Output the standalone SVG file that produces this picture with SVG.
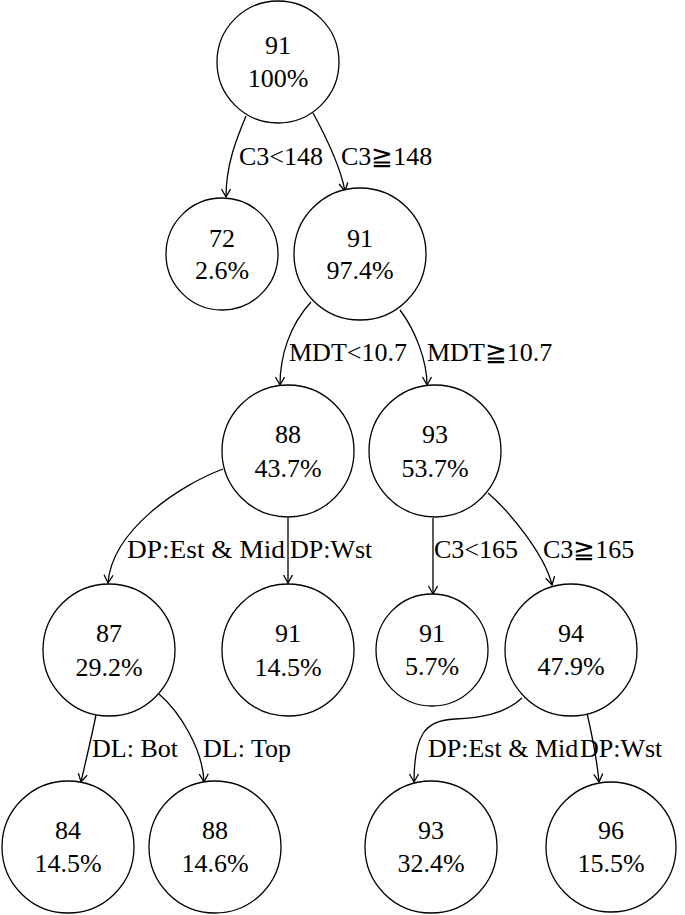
<svg xmlns="http://www.w3.org/2000/svg" width="685" height="915" viewBox="0 0 685 915" font-family="'Liberation Serif', 'Times New Roman', Times, 'DejaVu Serif', serif">
<style>
.node circle{fill:#fff;stroke:#000;stroke-width:1.3}
text{font-family:'Liberation Serif','Times New Roman',Times,'DejaVu Serif',serif;font-size:26px;fill:#000}
.node text{text-anchor:middle}
.edge{fill:none;stroke:#000;stroke-width:1.3;marker-end:url(#ah)}
</style>
<defs>
<marker id="ah" markerWidth="12" markerHeight="12" refX="9" refY="5" orient="auto" markerUnits="userSpaceOnUse">
<path d="M1,0.5 L9,5 L1,9.5" fill="none" stroke="#000" stroke-width="1.3"/>
</marker>
</defs>
<rect width="685" height="915" fill="#fff"/>
<g id="connectors">
<path class="edge" d="M246,116 C236,140 226,165 226,197"/>
<path class="edge" d="M313,113 C325,135 340,165 345,191"/>
<path class="edge" d="M311,302 C290,325 280,355 280,385"/>
<path class="edge" d="M400,310 C415,330 427,360 427,385"/>
<path class="edge" d="M223,469 C180,485 112,530 108,583"/>
<path class="edge" d="M288,518 L288,583"/>
<path class="edge" d="M433,518 L433,594"/>
<path class="edge" d="M488,493 C510,512 545,555 552,585"/>
<path class="edge" d="M96,715 C92,735 86,760 81,782"/>
<path class="edge" d="M159,694 C180,712 203,750 204,782"/>
<path class="edge" d="M522,698 C505,714 480,718 455,719 C425,720 414,735 414,782"/>
<path class="edge" d="M587,713 C592,735 597,760 599,782"/>
<text x="239" y="165">C3&lt;148</text>
<text x="341" y="165">C3≧148</text>
<text x="289" y="361">MDT&lt;10.7</text>
<text x="427" y="361">MDT≧10.7</text>
<text x="127" y="558" textLength="158" lengthAdjust="spacingAndGlyphs">DP:Est &amp; Mid</text>
<text x="290" y="558">DP:Wst</text>
<text x="434" y="558">C3&lt;165</text>
<text x="543" y="558">C3≧165</text>
<text x="92" y="757">DL: Bot</text>
<text x="203" y="757">DL: Top</text>
<text x="428" y="757">DP:Est &amp; Mid</text>
<text x="580" y="757">DP:Wst</text>
</g>
<g id="n0" class="node"><circle cx="278" cy="62" r="61"/><text x="278" y="54">91</text><text x="278" y="87">100%</text></g>
<g id="n1" class="node"><circle cx="222" cy="254" r="56"/><text x="222" y="247">72</text><text x="222" y="279">2.6%</text></g>
<g id="n2" class="node"><circle cx="360" cy="254" r="66"/><text x="360" y="247">91</text><text x="360" y="279">97.4%</text></g>
<g id="n3" class="node"><circle cx="288" cy="451" r="66"/><text x="288" y="443">88</text><text x="288" y="477">43.7%</text></g>
<g id="n4" class="node"><circle cx="435" cy="451" r="66"/><text x="435" y="443">93</text><text x="435" y="477">53.7%</text></g>
<g id="n5" class="node"><circle cx="109" cy="650" r="66"/><text x="109" y="642">87</text><text x="109" y="676">29.2%</text></g>
<g id="n6" class="node"><circle cx="288" cy="650" r="66"/><text x="288" y="642">91</text><text x="288" y="676">14.5%</text></g>
<g id="n7" class="node"><circle cx="432" cy="650" r="56"/><text x="432" y="642">91</text><text x="432" y="675">5.7%</text></g>
<g id="n8" class="node"><circle cx="571" cy="650" r="66"/><text x="571" y="642">94</text><text x="571" y="675">47.9%</text></g>
<g id="n9" class="node"><circle cx="68" cy="847" r="66"/><text x="68" y="839">84</text><text x="68" y="872">14.5%</text></g>
<g id="n10" class="node"><circle cx="215" cy="847" r="66"/><text x="215" y="839">88</text><text x="215" y="872">14.6%</text></g>
<g id="n11" class="node"><circle cx="431" cy="847" r="66"/><text x="431" y="839">93</text><text x="431" y="872">32.4%</text></g>
<g id="n12" class="node"><circle cx="611" cy="847" r="65"/><text x="611" y="839">96</text><text x="611" y="872">15.5%</text></g>
</svg>
